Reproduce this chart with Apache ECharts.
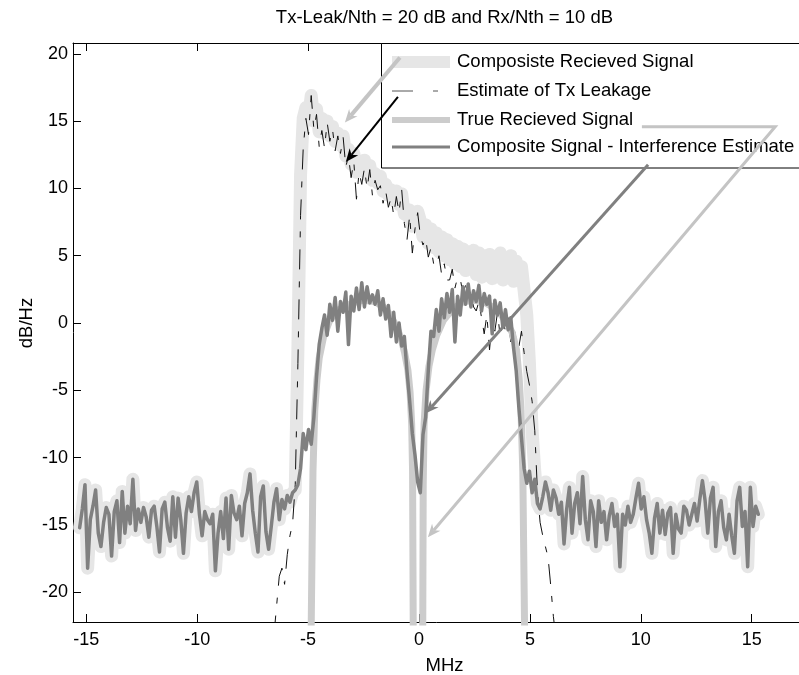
<!DOCTYPE html>
<html>
<head>
<meta charset="utf-8">
<title>Tx leakage estimate</title>
<script src="https://cdn.jsdelivr.net/npm/echarts@6.0.0/dist/echarts.min.js"></script>
<style>
  html, body { margin: 0; padding: 0; background: #fff; }
  #chart { width: 799px; height: 675px; }
</style>
</head>
<body>
<div id="chart"></div>
<script>
const FONT = "'Liberation Sans', Arial, sans-serif";

// all spectra are sampled on a 0.12 MHz grid
const freqStep = 0.12;

// noise floor left of the band (-15.3 .. -5.7 MHz), shared by both composite traces
const leftNoiseStart = -15.3;
const leftNoise = [
  -15.2, -13.8, -12.0, -18.2, -14.6, -13.6, -12.4, -15.6, -16.6, -14.8,
  -13.7, -14.2, -17.3, -14.0, -13.2, -16.3, -12.5, -15.6, -13.6, -14.9,
  -11.6, -15.4, -13.8, -14.8, -13.7, -14.4, -15.9, -13.9, -13.6, -15.1,
  -17.0, -13.8, -13.3, -15.2, -16.2, -12.9, -15.9, -13.0, -14.6, -17.1,
  -14.1, -12.9, -14.0, -12.6, -11.8, -14.2, -15.8, -14.0, -14.6, -14.9,
  -14.2, -18.4, -15.6, -14.0, -16.0, -13.0, -16.8, -12.8, -14.1, -14.6,
  -13.6, -15.8, -13.4, -12.6, -11.2, -13.9, -15.6, -17.0, -12.9, -12.1,
  -15.5, -16.8, -15.1, -13.3, -12.3, -14.6, -13.1, -13.8, -12.8, -13.3,
  -12.6
];

// in-band part (-5.58 .. 5.34 MHz)
const midStart = -5.58;
const compositeMid = [
  -12.4, -2.0, 11.0, 15.2, 16.0, 15.1, 16.9, 15.0, 15.9, 14.2,
  15.2, 14.1, 15.0, 13.9, 14.6, 13.5, 14.1, 13.2, 13.9, 12.4,
  12.9, 11.8, 12.6, 11.2, 12.0, 11.5, 12.1, 11.0, 11.7, 10.6,
  11.1, 10.4, 10.9, 9.8, 10.3, 9.5, 9.9, 9.1, 9.8, 8.8,
  9.6, 8.1, 8.0, 8.4, 7.2, 7.8, 8.3, 7.6, 6.4, 7.3,
  5.9, 7.0, 5.6, 6.7, 5.3, 6.4, 5.0, 6.2, 4.7, 5.9,
  4.4, 5.7, 4.2, 5.5, 3.9, 5.3, 4.0, 5.4, 3.6, 5.2,
  3.4, 5.0, 3.6, 5.1, 3.3, 4.9, 3.5, 5.2, 3.2, 4.8,
  3.6, 5.0, 3.1, 4.6, 3.2, 4.2, 2.4, 0.6, -3.0, -8.0,
  -11.0, -13.4
];
const cleanedMid = [
  -12.4, -12.0, -10.8, -8.2, -9.4, -7.9, -9.0, -7.0, -4.0, -1.6,
  -0.4, 0.6, -0.9, 1.4, 0.2, 1.9, -0.6, 1.6, 0.8, 2.3,
  -1.6, 2.0, 0.9, 2.6, 1.0, 3.0, 1.2, 2.7, 1.5, 2.1,
  1.4, 2.4, 0.6, 1.8, 0.3, 1.3, -1.0, 0.8, -1.4, 0.0,
  -1.7, -1.0, -3.6, -5.8, -8.2, -9.8, -11.8, -12.6, -8.3, -7.0,
  -3.5, -0.6, -1.0, 1.0, -0.6, 1.8, 0.4, 2.2, 0.8, 2.5,
  -1.4, 2.0, 0.6, 2.7, 1.4, 2.9, 1.2, 2.4, 1.6, 2.8,
  0.9, 2.2, 1.4, 2.0, -0.8, 1.7, 0.6, 1.5, -0.3, 1.0,
  -0.5, 0.4, -1.8, -3.5, -6.2, -8.5, -10.8, -11.9, -11.0, -12.6,
  -11.6, -13.4
];

// noise floor right of the band (5.46 .. 15.3 MHz)
const rightNoiseStart = 5.46;
const rightNoise = [
  -13.8, -12.9, -11.8, -12.6, -13.9, -12.4, -13.0, -14.2, -13.3, -16.4,
  -13.8, -12.2, -15.6, -13.4, -12.6, -14.9, -11.4, -14.6, -16.1, -13.2,
  -14.0, -16.6, -13.2, -14.8, -14.0, -16.1, -14.3, -13.4, -15.1, -14.2,
  -18.1, -14.2, -15.0, -13.6, -14.8, -14.2, -13.0, -11.9, -13.8, -12.9,
  -14.6, -15.6, -17.1, -14.5, -13.4, -15.6, -13.9, -15.7, -14.1, -13.7,
  -17.1, -14.2, -15.3, -15.6, -13.6, -13.9, -15.0, -14.2, -13.4, -14.7,
  -13.1, -11.7, -13.2, -15.6, -13.0, -12.2, -16.6, -14.0, -13.2, -15.2,
  -16.1, -14.2, -15.8, -17.1, -13.2, -12.2, -15.1, -14.0, -18.1, -12.2,
  -15.1, -13.6, -14.2
];

// estimated Tx leakage (-6.54 .. 6.18 MHz)
const leakStart = -6.54;
const leakage = [
  -23.2, -21.0, -18.8, -18.2, -19.4, -17.2, -15.8, -14.9, -12.0, -3.0,
  8.0, 13.0, 15.2, 14.0, 16.9, 14.4, 15.5, 13.1, 14.3, 13.0,
  14.9, 13.5, 14.4, 12.8, 13.9, 12.6, 13.8, 11.6, 12.4, 10.8,
  12.0, 9.2, 11.2, 10.3, 11.5, 10.0, 11.4, 9.5, 10.6, 9.9,
  10.2, 8.9, 9.8, 8.6, 9.3, 8.0, 9.4, 8.2, 9.9, 7.4,
  6.2, 8.0, 5.2, 7.0, 8.2, 6.5, 5.8, 6.3, 4.9, 5.6,
  4.4, 4.2, 5.0, 3.6, 4.4, 3.2, 3.2, 4.0, 2.6, 3.4,
  3.3, 2.2, 2.8, 1.6, 2.2, 1.2, 0.9, 1.6, 0.4, -0.8,
  0.6, -2.0, 0.2, -0.6, 0.8, -1.0, 0.2, -0.6, 0.4, -1.4,
  -0.2, -1.2, -1.8, -0.6, -2.2, -3.6, -4.6, -5.8, -8.0, -12.5,
  -14.8, -15.8, -16.6, -17.4, -19.5, -21.8, -23.5
];

// noiseless received signal with the DC notch
const trueFreq = [
  -4.90, -4.86, -4.78, -4.70, -4.60, -4.50, -4.30, -4.00, -3.60, -3.00,
  -2.50, -2.00, -1.60, -1.30, -1.00, -0.80, -0.65, -0.50, -0.40, -0.33,
  -0.29, -0.26, -0.24, 0.14, 0.17, 0.19, 0.23, 0.32, 0.45, 0.60,
  0.80, 1.10, 1.50, 2.00, 2.50, 3.00, 3.50, 3.90, 4.20, 4.40,
  4.52, 4.60, 4.68, 4.76, 4.80
];
const trueLevel = [
  -45, -22.5, -11, -6.5, -4.2, -2.6, -1.0, 0.3, 1.0, 1.5,
  1.7, 1.6, 1.2, 0.6, -0.3, -1.2, -2.2, -3.5, -5.2, -7.5,
  -11, -22.5, -45, -45, -22.5, -12, -7.5, -5, -3.2, -2.0,
  -0.9, 0.2, 1.0, 1.6, 1.7, 1.5, 1.0, 0.2, -0.7, -2.0,
  -4.2, -6.5, -11, -22.5, -45
];

const xTicks = [-15, -10, -5, 0, 5, 10, 15];
const yTicks = [-20, -15, -10, -5, 0, 5, 10, 15, 20];

const titleText = 'Tx-Leak/Nth = 20 dB and Rx/Nth = 10 dB';
const legendNames = [
  'Composiste Recieved Signal',
  'Estimate of Tx Leakage',
  'True Recieved Signal',
  'Composite Signal - Interference Estimate'
];

// annotation arrows, in data units (MHz, dB/Hz); the last point is the tip
const arrows = [
  { color: '#c4c4c4', width: 4, path: [[-0.86, 19.72], [-3.34, 14.89]] },
  { color: '#000000', width: 2, path: [[-0.95, 16.8], [-3.30, 11.97]] },
  { color: '#808080', width: 3, path: [[10.33, 11.75], [0.31, -6.7]] },
  { color: '#c4c4c4', width: 3, path: [[10.05, 14.58], [16.06, 14.58], [0.40, -15.9]] }
];

function onGrid(start, values) {
  return values.map((v, i) => [+(start + i * freqStep).toFixed(2), v]);
}

const leftPart = onGrid(leftNoiseStart, leftNoise);
const rightPart = onGrid(rightNoiseStart, rightNoise);
const compositeData = leftPart.concat(onGrid(midStart, compositeMid), rightPart);
const cleanedData = leftPart.concat(onGrid(midStart, cleanedMid), rightPart);
const leakData = onGrid(leakStart, leakage);
const trueData = trueFreq.map((f, i) => [f, trueLevel[i]]);

const axisLineStyle = { onZero: false, lineStyle: { color: '#000', width: 1 } };
const tickStyle = { inside: true, length: 8, lineStyle: { color: '#000', width: 1 } };

function lineSeries(name, data, lineStyle) {
  return {
    name: name,
    type: 'line',
    data: data,
    symbol: 'none',
    silent: true,
    clip: true,
    lineStyle: Object.assign({ cap: 'round', join: 'round' }, lineStyle)
  };
}

const chart = echarts.init(document.getElementById('chart'));

chart.setOption({
  animation: false,
  backgroundColor: '#fff',
  textStyle: { fontFamily: FONT },
  grid: { left: 73, right: -17, top: 43, bottom: 53, containLabel: false, outerBoundsMode: 'none' },
  xAxis: [{
    type: 'value',
    min: -15.6,
    max: 17.9,
    position: 'bottom',
    axisLine: axisLineStyle,
    axisTick: Object.assign({ customValues: xTicks }, tickStyle),
    axisLabel: { customValues: xTicks, color: '#000', fontSize: 18, fontFamily: FONT, margin: 9 },
    splitLine: { show: false },
    name: 'MHz',
    nameLocation: 'middle',
    nameGap: 34,
    nameTextStyle: { color: '#000', fontSize: 18.5, fontFamily: FONT }
  }, {
    type: 'value',
    min: -15.6,
    max: 17.9,
    position: 'top',
    axisLine: axisLineStyle,
    axisTick: Object.assign({ customValues: xTicks }, tickStyle),
    axisLabel: { show: false },
    splitLine: { show: false }
  }],
  yAxis: [{
    type: 'value',
    min: -22.2,
    max: 20.8,
    position: 'left',
    axisLine: axisLineStyle,
    axisTick: Object.assign({ customValues: yTicks }, tickStyle),
    axisLabel: { customValues: yTicks, color: '#000', fontSize: 18, fontFamily: FONT, margin: 5 },
    splitLine: { show: false }
  }],
  series: [
    lineSeries(legendNames[0], compositeData, { color: '#e6e6e6', width: 13 }),
    lineSeries(legendNames[1], leakData, { color: '#111', width: 1, type: [20, 12, 6, 12], cap: 'butt' }),
    lineSeries(legendNames[2], trueData, { color: '#cccccc', width: 7 }),
    lineSeries(legendNames[3], cleanedData, { color: '#808080', width: 3.5 })
  ]
});

// legend box, drawn the way the original figure has it
function buildLegend() {
  const rowY = [62, 91, 120, 147];
  const items = [];
  items.push({
    type: 'rect', z: 100,
    shape: { x: 381.5, y: 43.5, width: 460, height: 124.5 },
    style: { fill: '#fff', stroke: '#000', lineWidth: 1 }
  });
  const samples = [
    { segs: [[392, 450]], color: '#e6e6e6', width: 12 },
    { segs: [[392, 413], [433, 438]], color: '#555', width: 1 },
    { segs: [[392, 450]], color: '#cccccc', width: 6 },
    { segs: [[392, 450]], color: '#808080', width: 3 }
  ];
  samples.forEach((s, i) => {
    s.segs.forEach((seg) => {
      items.push({
        type: 'line', z: 101,
        shape: { x1: seg[0], y1: rowY[i], x2: seg[1], y2: rowY[i] },
        style: { stroke: s.color, lineWidth: s.width }
      });
    });
    items.push({
      type: 'text', z: 101, x: 457, y: rowY[i],
      style: {
        text: legendNames[i], fill: '#000', fontSize: 18.5, fontFamily: FONT,
        textAlign: 'left', textVerticalAlign: 'middle'
      }
    });
  });
  return items;
}

function buildArrows() {
  const items = [];
  arrows.forEach((a) => {
    const pts = a.path.map((p) => chart.convertToPixel({ xAxisIndex: 0, yAxisIndex: 0 }, p));
    const tip = pts[pts.length - 1];
    const prev = pts[pts.length - 2];
    const dx = tip[0] - prev[0];
    const dy = tip[1] - prev[1];
    const len = Math.sqrt(dx * dx + dy * dy);
    const ux = dx / len, uy = dy / len;
    const nx = -uy, ny = ux;
    const headLen = 13, headWid = 11;
    const bx = tip[0] - ux * headLen, by = tip[1] - uy * headLen;
    const notch = [tip[0] - ux * headLen * 0.7, tip[1] - uy * headLen * 0.7];
    const linePts = pts.slice(0, -1).concat([notch]);
    items.push({
      type: 'polyline', z: 110,
      shape: { points: linePts },
      style: { stroke: a.color, lineWidth: a.width, fill: null }
    });
    items.push({
      type: 'polygon', z: 111,
      shape: { points: [tip, [bx + nx * headWid / 2, by + ny * headWid / 2], notch, [bx - nx * headWid / 2, by - ny * headWid / 2]] },
      style: { fill: a.color }
    });
  });
  return items;
}

const labels = [
  {
    type: 'text', z: 100, x: 444.5, y: 18,
    style: { text: titleText, fill: '#000', fontSize: 18.5, fontFamily: FONT, textAlign: 'center', textVerticalAlign: 'middle' }
  },
  {
    type: 'text', z: 100, x: 27, y: 323, rotation: Math.PI / 2,
    style: { text: 'dB/Hz', fill: '#000', fontSize: 18.5, fontFamily: FONT, textAlign: 'center', textVerticalAlign: 'middle' }
  }
];

chart.setOption({ graphic: labels.concat(buildLegend(), buildArrows()) });
</script>
</body>
</html>
